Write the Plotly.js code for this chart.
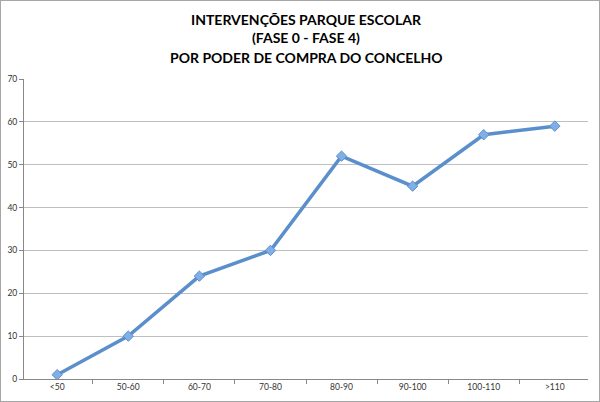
<!DOCTYPE html>
<html>
<head>
<meta charset="utf-8">
<script src="https://cdn.plot.ly/plotly-3.0.1.min.js"></script>
<style>
  html, body { margin: 0; padding: 0; background: #fff; }
  #chart { width: 598px; height: 400px; border: 1px solid #a6a6a6; }
</style>
</head>
<body>
<div id="chart"></div>
<script>
// poder de compra categories and number of interventions
var categories = [ '<50', '50-60', '60-70', '70-80', '80-90', '90-100', '100-110', '>110' ];
var interventions = [ 1, 10, 24, 30, 52, 45, 57, 59 ];
var yTicks = [ 0, 10, 20, 30, 40, 50, 60, 70 ];
var titleLines = [ 'INTERVENÇÕES PARQUE ESCOLAR', '(FASE 0 - FASE 4)', 'POR PODER DE COMPRA DO CONCELHO' ];

var trace = {
    x: categories,
    y: interventions,
    type: 'scatter',
    mode: 'lines+markers',
    line: { color: '#5b8fcb', width: 3.5 },
    marker: { symbol: 'diamond', size: 8, color: '#80aee6', line: { color: '#5b8fcb', width: 1 } },
    hoverinfo: 'x+y'
};

// title is drawn as three annotations so line spacing can be set
var titleY = [ 1.197, 1.137, 1.07 ];
var titleAnnotations = titleLines.map( function ( line, i ) {
    return {
        text: '<b>' + line + '</b>',
        xref: 'paper', yref: 'paper',
        x: 0.5, y: titleY[ i ],
        xanchor: 'center', yanchor: 'middle',
        showarrow: false,
        font: { family: 'Lato, sans-serif', size: 14, color: '#000' }
    };
});

var layout = {
    width: 598,
    height: 400,
    margin: { l: 23, r: 11, t: 78, b: 22 },
    paper_bgcolor: '#fff',
    plot_bgcolor: '#fff',
    showlegend: false,
    annotations: titleAnnotations,
    xaxis: {
        type: 'category',
        tickson: 'boundaries',
        ticks: 'outside',
        ticklen: 4,
        tickcolor: '#888',
        showgrid: false,
        showline: true,
        linecolor: '#888',
        tickfont: { family: 'Lato, sans-serif', size: 8.5, color: '#333' },
        fixedrange: true
    },
    yaxis: {
        range: [ 0, 70 ],
        tickvals: yTicks,
        ticks: 'outside',
        ticklen: 4,
        tickcolor: '#888',
        showline: true,
        linecolor: '#888',
        gridcolor: '#bfbfbf',
        zeroline: false,
        tickfont: { family: 'Lato, sans-serif', size: 8.5, color: '#333' },
        fixedrange: true
    }
};

Plotly.newPlot( 'chart', [ trace ], layout, { displayModeBar: false } );
</script>
</body>
</html>
